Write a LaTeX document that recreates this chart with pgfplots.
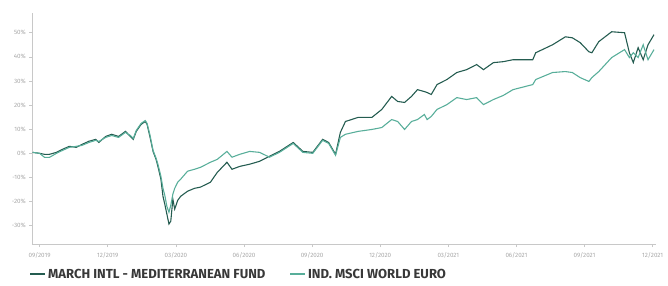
\documentclass[border=0pt]{standalone}
\usepackage{pgfplots}
\pgfplotsset{compat=1.18}
\usepackage{fontspec}
\setmainfont{Fira Sans}
\definecolor{fund}{HTML}{245C50}
\definecolor{idx}{HTML}{58AE9A}
\definecolor{axgray}{HTML}{C8C8C8}
\definecolor{lblgray}{HTML}{A8A8A8}
\begin{document}
\begin{tikzpicture}
\begin{axis}[
  at={(0,0)}, anchor=south west,
  scale only axis,
  width=628bp, height=233bp,
  xmin=-0.34, xmax=26.79,
  ymin=-37.8, ymax=58.2,
  axis lines=left,
  axis line style={draw=axgray, line width=0.6pt, -},
  xtick={0,2.96,5.92,8.88,11.84,14.8,17.76,20.72,23.68,26.64},
  xticklabels={09/2019,12/2019,03/2020,06/2020,09/2020,12/2020,03/2021,06/2021,09/2021,12/2021},
  ytick={-30,-20,-10,0,10,20,30,40,50},
  yticklabels={-30\%,-20\%,-10\%,0\%,10\%,20\%,30\%,40\%,50\%},
  tick align=outside,
  major tick length=2.5bp,
  tick style={draw=axgray, line width=0.6pt},
  ticklabel style={font=\fontsize{6.3}{7}\selectfont, text=lblgray},
  xticklabel style={yshift=-2bp},
  /pgf/number format/assume math mode=true,
  legend style={at={(-0.009,-0.128)}, anchor=west, draw=none, fill=none,
    font=\fontsize{13.2}{15}\selectfont\bfseries, text=black!78,
    legend columns=2, /tikz/every even column/.append style={column sep=22bp}},
  legend image code/.code={\draw[#1, line width=2.2pt] (0,0) -- (0.52cm,0);},
]
\addplot[fund, line width=1.1pt] coordinates {
(-0.30,0.4) (0,0) (0.21,-0.4) (0.43,-0.4) (0.73,0.4) (0.99,1.65) (1.29,2.9) (1.59,2.5) (1.84,3.7) (2.14,5.0) (2.44,5.8) (2.57,4.5) (2.87,7.0) (3.13,7.9) (3.43,7.0) (3.73,9.1) (3.94,7.0) (4.07,5.8) (4.20,9.1) (4.41,12.0) (4.59,13.2) (4.67,12.0) (4.80,6.6) (4.93,0.8) (5.06,-2.5) (5.14,-5.4) (5.27,-10.7) (5.36,-17.8) (5.44,-21.1) (5.53,-25.2) (5.62,-29.3) (5.70,-28.1) (5.79,-19.0) (5.87,-23.1) (6.00,-19.5) (6.13,-17.8) (6.43,-15.7) (6.73,-14.5) (6.99,-14.0) (7.42,-12.0) (7.72,-7.9) (8.14,-3.7) (8.36,-6.6) (8.70,-5.4) (9.13,-4.5) (9.56,-3.3) (9.99,-1.2) (10.42,0.8) (11.02,4.5) (11.44,0.8) (11.87,0.4) (12.30,5.8) (12.56,4.5) (12.86,-0.4) (13.07,8.7) (13.29,13.2) (13.84,14.9) (14.44,14.9) (14.87,18.2) (15.30,23.6) (15.56,21.5) (15.86,21.1) (16.16,23.6) (16.42,26.4) (16.72,25.6) (16.84,25.2) (17.02,24.4) (17.27,28.5) (17.70,30.6) (18.13,33.5) (18.56,34.7) (18.99,36.8) (19.29,34.7) (19.72,37.6) (20.15,38.0) (20.57,38.8) (21.43,38.8) (21.56,41.7) (22.29,45.0) (22.85,48.3) (23.15,47.9) (23.49,45.9) (23.87,42.1) (24.00,41.7) (24.30,46.3) (24.86,50.4) (25.42,50.0) (25.63,41.7) (25.80,37.6) (26.01,43.8) (26.23,38.8) (26.44,45.0) (26.70,49.2)
};
\addlegendentry{MARCH INTL - MEDITERRANEAN FUND}
\addplot[idx, line width=1.1pt] coordinates {
(-0.30,0.4) (0,0) (0.21,-1.65) (0.43,-1.65) (0.73,0) (0.99,1.2) (1.29,2.5) (1.59,2.9) (1.84,3.3) (2.14,4.5) (2.44,5.4) (2.57,4.9) (2.87,6.6) (3.13,7.4) (3.43,6.6) (3.73,8.7) (3.94,7.4) (4.07,6.2) (4.20,9.5) (4.41,12.4) (4.59,13.6) (4.67,12.4) (4.80,7.4) (4.93,1.2) (5.06,-2.0) (5.14,-4.5) (5.27,-9.5) (5.36,-14.5) (5.44,-17.4) (5.53,-22.0) (5.62,-24.4) (5.70,-21.5) (5.79,-16.9) (5.87,-14.5) (6.00,-12.0) (6.13,-10.7) (6.43,-7.4) (6.73,-6.6) (6.99,-5.8) (7.42,-3.7) (7.72,-2.5) (8.14,0.8) (8.36,-1.6) (8.70,-0.4) (9.13,0.8) (9.56,0.4) (9.99,-1.6) (10.42,0.4) (11.02,4.1) (11.44,0.4) (11.87,0) (12.30,5.4) (12.56,4.1) (12.86,-0.8) (13.07,6.6) (13.29,7.9) (13.84,9.1) (14.44,9.9) (14.87,10.7) (15.30,14.0) (15.56,13.2) (15.86,9.9) (16.16,13.2) (16.42,14.0) (16.72,16.1) (16.84,14.0) (17.02,15.3) (17.27,18.2) (17.70,20.2) (18.13,23.1) (18.56,22.3) (18.99,23.1) (19.29,20.2) (19.72,22.3) (20.15,24.0) (20.57,26.4) (21.43,28.5) (21.56,30.6) (22.29,33.5) (22.85,33.9) (23.15,33.5) (23.49,31.4) (23.87,29.8) (24.00,31.4) (24.30,33.9) (24.86,39.7) (25.42,43.0) (25.63,39.7) (25.80,41.7) (26.01,39.7) (26.23,45.0) (26.44,38.8) (26.70,43.0)
};
\addlegendentry{IND. MSCI WORLD EURO}
\end{axis}
\pgfresetboundingbox
\useasboundingbox (-32bp,-41bp) rectangle (640bp,246bp);
\end{tikzpicture}
\end{document}
